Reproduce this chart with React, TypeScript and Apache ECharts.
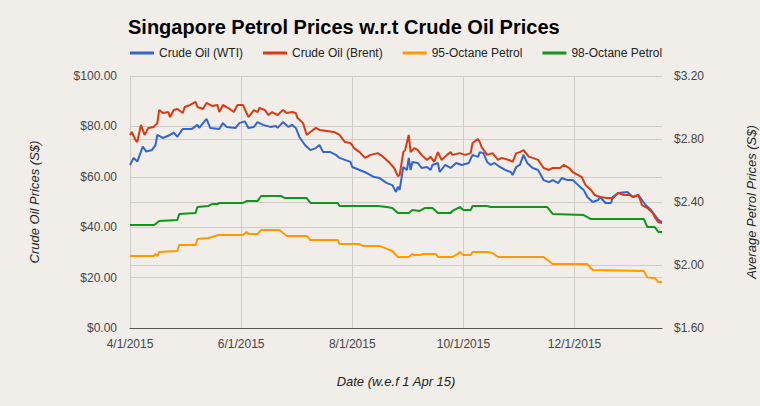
import React, { useEffect, useRef } from "react";
import * as echarts from "echarts";

// Day offsets are counted from 1 April 2015
const START = Date.UTC(2015, 3, 1);
const LAST_DAY = 292;
const TICK_STEP = 61; // 4/1, 6/1, 8/1, 10/1, 12/1

const seriesNames = ["Crude Oil (WTI)", "Crude Oil (Brent)", "95-Octane Petrol", "98-Octane Petrol"];
const seriesColors = ["#3366cc", "#dc3912", "#ff9900", "#109618"];

// Crude Oil (WTI), S$
const wtiDays = [0, 2, 4, 7, 9, 12, 14, 15, 18, 22, 24, 26, 29, 34, 37, 38, 42, 44, 49, 51, 53, 58, 60, 63, 65, 68, 70, 73, 77, 80, 81, 84, 87, 89, 91, 93, 96, 99, 102, 104, 106, 110, 113, 115, 118, 121, 122, 126, 130, 134, 137, 141, 144, 146, 147, 148, 150, 152, 153, 154, 155, 158, 160, 163, 165, 166, 169, 170, 173, 176, 179, 182, 186, 188, 191, 192, 194, 196, 198, 200, 203, 206, 209, 210, 212, 214, 216, 218, 221, 224, 227, 230, 232, 235, 237, 240, 243, 246, 247, 249, 251, 254, 257, 258, 261, 264, 265, 268, 273, 276, 279, 281, 283, 286, 288, 290, 292];
const wtiValues = [64.7, 67.5, 66.0, 72.0, 70.0, 70.6, 72.6, 76.6, 75.4, 76.6, 77.5, 75.9, 79.0, 79.0, 80.6, 79.4, 83.0, 79.4, 79.0, 81.3, 79.8, 79.4, 81.3, 82.0, 79.4, 79.8, 81.7, 80.6, 79.8, 80.2, 79.4, 81.7, 79.8, 80.6, 79.4, 75.8, 72.6, 70.6, 71.4, 72.6, 69.8, 69.8, 68.7, 67.5, 66.7, 65.9, 63.9, 62.7, 61.5, 59.9, 59.5, 57.5, 56.7, 54.0, 56.0, 54.8, 63.9, 62.7, 67.5, 62.7, 65.9, 65.5, 63.5, 63.9, 62.7, 64.7, 65.5, 61.9, 64.7, 63.5, 65.5, 64.7, 65.5, 68.7, 67.9, 69.8, 69.4, 65.9, 64.7, 65.5, 63.9, 62.7, 61.9, 60.7, 63.9, 64.7, 68.7, 65.5, 63.5, 62.7, 58.7, 57.9, 58.7, 57.5, 59.5, 58.7, 58.7, 56.7, 56.0, 54.8, 52.0, 50.0, 50.8, 52.0, 49.6, 49.6, 52.0, 53.6, 54.0, 52.0, 52.8, 50.8, 48.8, 46.8, 44.8, 42.9, 42.0];

// Crude Oil (Brent), S$
const brentDays = [0, 1, 3, 4, 6, 8, 10, 13, 15, 16, 18, 21, 22, 24, 26, 29, 30, 33, 36, 37, 40, 42, 45, 48, 49, 51, 54, 57, 59, 62, 65, 68, 70, 71, 74, 76, 78, 81, 84, 86, 89, 91, 92, 95, 97, 99, 102, 104, 108, 112, 115, 118, 121, 123, 126, 129, 132, 136, 139, 142, 145, 147, 148, 150, 151, 153, 154, 156, 158, 160, 163, 165, 167, 169, 171, 174, 176, 177, 181, 184, 187, 188, 191, 192, 193, 196, 199, 202, 204, 208, 210, 212, 214, 216, 219, 221, 224, 227, 230, 232, 236, 238, 241, 243, 246, 248, 250, 253, 255, 258, 262, 265, 268, 271, 274, 276, 279, 281, 284, 287, 288, 290, 292];
const brentValues = [76.6, 77.8, 74.6, 73.8, 80.6, 76.6, 79.4, 79.8, 81.3, 86.5, 85.3, 85.7, 83.7, 86.5, 86.9, 85.3, 87.7, 88.5, 89.7, 87.7, 86.9, 89.3, 88.1, 88.5, 85.7, 88.5, 87.3, 85.7, 88.5, 88.5, 83.7, 86.5, 85.7, 87.3, 86.5, 84.5, 85.7, 84.5, 86.5, 85.3, 85.7, 85.3, 83.3, 81.3, 76.6, 77.8, 79.4, 78.6, 78.2, 77.8, 76.6, 73.8, 73.4, 71.4, 69.8, 67.5, 68.7, 69.4, 67.9, 65.9, 63.5, 60.3, 60.7, 69.8, 70.6, 76.6, 69.8, 71.4, 70.6, 68.7, 66.7, 67.9, 65.9, 69.8, 66.7, 68.7, 69.8, 68.7, 69.4, 68.7, 69.4, 73.4, 75.0, 73.8, 71.8, 68.7, 69.4, 66.7, 67.5, 66.7, 65.9, 69.4, 69.8, 70.6, 67.9, 67.5, 66.7, 63.5, 62.7, 63.5, 63.5, 64.7, 63.5, 61.9, 60.7, 59.9, 56.7, 54.8, 52.8, 52.0, 51.6, 51.6, 53.6, 52.8, 52.8, 52.0, 52.8, 48.8, 47.6, 45.6, 44.0, 42.0, 41.7];

// 95-Octane Petrol, S$ per litre
const octane95Days = [0, 13, 14, 15, 16, 26, 27, 36, 37, 43, 45, 48, 62, 64, 65, 70, 72, 82, 86, 97, 99, 114, 115, 126, 128, 137, 141, 144, 147, 153, 155, 156, 159, 161, 168, 169, 177, 180, 181, 183, 187, 188, 196, 199, 202, 227, 232, 251, 254, 282, 284, 288, 290, 292];
const octane95Values = [2.057, 2.057, 2.07, 2.057, 2.083, 2.089, 2.127, 2.127, 2.165, 2.171, 2.178, 2.19, 2.19, 2.21, 2.197, 2.197, 2.222, 2.222, 2.184, 2.184, 2.159, 2.159, 2.133, 2.133, 2.121, 2.121, 2.102, 2.089, 2.051, 2.051, 2.07, 2.063, 2.063, 2.07, 2.07, 2.051, 2.051, 2.07, 2.083, 2.063, 2.063, 2.083, 2.083, 2.076, 2.051, 2.051, 2.006, 2.006, 1.968, 1.962, 1.92, 1.918, 1.892, 1.892];

// 98-Octane Petrol, S$ per litre
const octane98Days = [0, 13, 14, 16, 26, 27, 36, 37, 43, 45, 48, 49, 62, 64, 70, 72, 83, 85, 97, 99, 114, 115, 136, 141, 144, 147, 153, 155, 159, 162, 166, 169, 176, 177, 181, 183, 187, 188, 196, 198, 229, 232, 249, 253, 282, 284, 288, 290, 292];
const octane98Values = [2.254, 2.254, 2.26, 2.279, 2.286, 2.324, 2.33, 2.368, 2.375, 2.387, 2.387, 2.394, 2.394, 2.406, 2.406, 2.438, 2.438, 2.425, 2.425, 2.394, 2.394, 2.375, 2.375, 2.368, 2.362, 2.33, 2.33, 2.349, 2.343, 2.362, 2.362, 2.33, 2.33, 2.343, 2.368, 2.349, 2.349, 2.375, 2.375, 2.368, 2.368, 2.324, 2.317, 2.292, 2.292, 2.241, 2.241, 2.21, 2.21];

const FONT = "Arial, 'Liberation Sans', sans-serif";

function pairs(days: number[], values: number[]) {
  return days.map((d, i) => [d, values[i]]);
}

function dayLabel(v: number) {
  const d = new Date(START + v * 86400000);
  return `${d.getUTCMonth() + 1}/${d.getUTCDate()}/${d.getUTCFullYear()}`;
}

export default function App() {
  const ref = useRef<HTMLDivElement>(null);

  useEffect(() => {
    if (!ref.current) return;
    const chart = echarts.init(ref.current, undefined, { renderer: "svg" });
    const allData = [
      pairs(wtiDays, wtiValues),
      pairs(brentDays, brentValues),
      pairs(octane95Days, octane95Values),
      pairs(octane98Days, octane98Values),
    ];
    chart.setOption({
      animation: false,
      backgroundColor: "#f1eeea",
      textStyle: { fontFamily: FONT },
      title: {
        text: "Singapore Petrol Prices w.r.t Crude Oil Prices",
        left: 128,
        top: 17,
        padding: 0,
        textStyle: { fontSize: 20, fontWeight: "bold", color: "#000", fontFamily: FONT },
      },
      legend: {
        left: 130,
        top: 47,
        padding: 0,
        itemGap: 20,
        itemWidth: 24,
        itemHeight: 3,
        icon: "rect",
        textStyle: { fontSize: 12, color: "#222", fontFamily: FONT },
        data: seriesNames,
      },
      grid: {
        left: 130,
        right: 98,
        top: 76,
        bottom: 78,
        containLabel: false,
        outerBoundsMode: "none",
      },
      xAxis: {
        type: "value",
        min: 0,
        max: LAST_DAY,
        interval: TICK_STEP,
        name: "Date (w.e.f 1 Apr 15)",
        nameLocation: "middle",
        nameGap: 47,
        nameTextStyle: { fontSize: 13, fontStyle: "italic", color: "#222", fontFamily: FONT },
        axisLine: { show: true, lineStyle: { color: "#555", width: 1 } },
        axisTick: { show: false },
        axisLabel: {
          formatter: (v: number) => dayLabel(v),
          fontSize: 12,
          color: "#444",
          margin: 10,
          showMaxLabel: false,
          fontFamily: FONT,
        },
        splitLine: { show: true, showMaxLine: false, lineStyle: { color: "#cfccc8", width: 1 } },
      },
      yAxis: [
        {
          type: "value",
          min: 0,
          max: 100,
          interval: 20,
          name: "Crude Oil Prices (S$)",
          nameLocation: "middle",
          nameRotate: 90,
          nameGap: 89,
          nameTextStyle: { fontSize: 13, fontStyle: "italic", color: "#222", fontFamily: FONT },
          axisLine: { show: false },
          axisTick: { show: false },
          axisLabel: {
            formatter: (v: number) => "$" + v.toFixed(2),
            fontSize: 12,
            color: "#444",
            margin: 13,
            fontFamily: FONT,
          },
          splitLine: { show: true, lineStyle: { color: "#cfccc8", width: 1 } },
        },
        {
          type: "value",
          min: 1.6,
          max: 3.2,
          interval: 0.4,
          position: "right",
          name: "Average Petrol Prices (S$)",
          nameLocation: "middle",
          nameRotate: 90,
          nameGap: 83,
          nameTextStyle: { fontSize: 13, fontStyle: "italic", color: "#222", fontFamily: FONT },
          axisLine: { show: false },
          axisTick: { show: false },
          axisLabel: {
            formatter: (v: number) => "$" + v.toFixed(2),
            fontSize: 12,
            color: "#444",
            margin: 12,
            fontFamily: FONT,
          },
          splitLine: { show: true, lineStyle: { color: "#cfccc8", width: 1 } },
        },
      ],
      series: seriesNames.map((name, i) => ({
        name,
        type: "line",
        yAxisIndex: i < 2 ? 0 : 1,
        data: allData[i],
        showSymbol: false,
        symbol: "none",
        lineStyle: { color: seriesColors[i], width: 2 },
        itemStyle: { color: seriesColors[i] },
      })),
    });
    return () => chart.dispose();
  }, []);

  return (
    <div
      ref={ref}
      style={{ position: "fixed", left: 0, top: 0, width: 760, height: 406, background: "#f1eeea" }}
    />
  );
}
